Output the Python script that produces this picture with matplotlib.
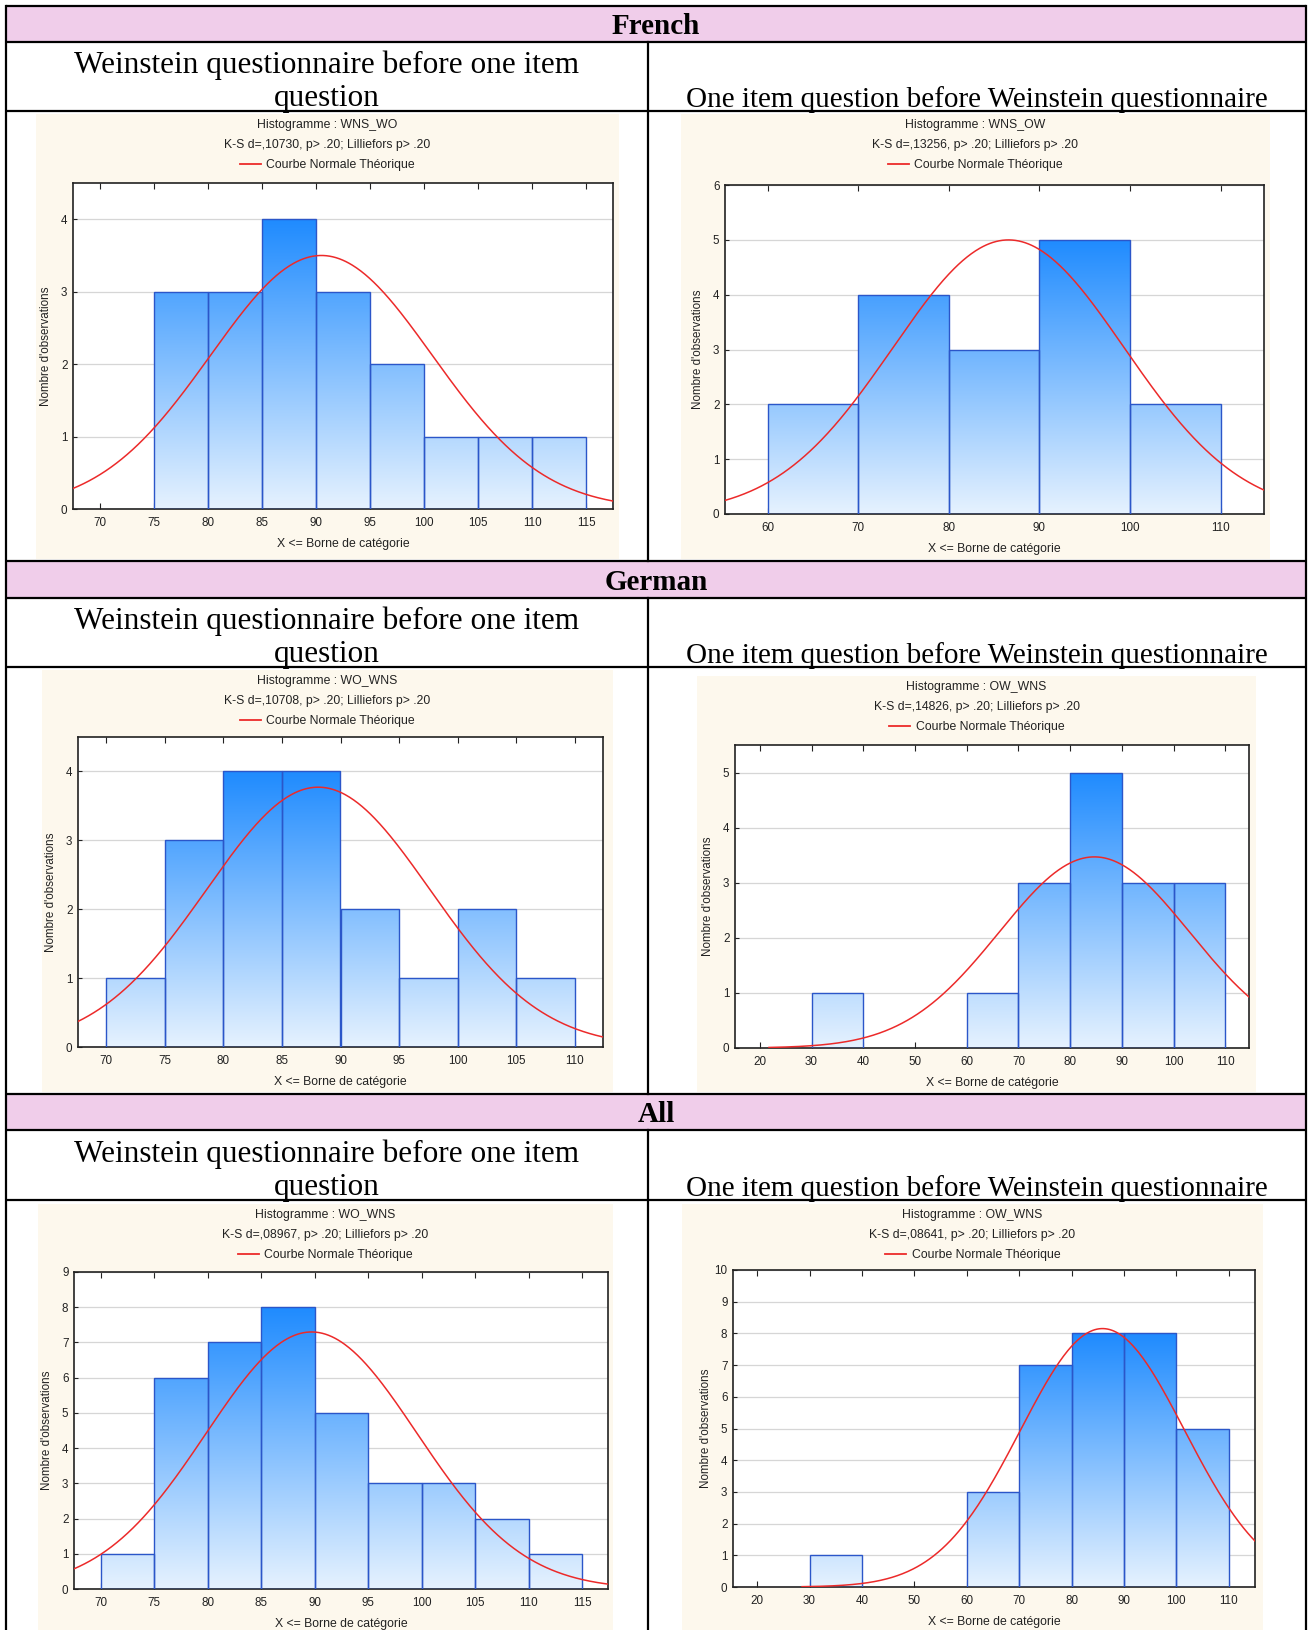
import numpy as np
import matplotlib.pyplot as plt
from matplotlib.colors import LinearSegmentedColormap

W, H = 1312, 1630

# table text
sections = ["French", "German", "All"]
sub_left = "Weinstein questionnaire before one item\nquestion"
sub_right = "One item question before Weinstein questionnaire"

# histogram headers
hist_titles = ["Histogramme : WNS_WO", "Histogramme : WNS_OW",
               "Histogramme : WO_WNS", "Histogramme : OW_WNS",
               "Histogramme : WO_WNS", "Histogramme : OW_WNS"]
ks_lines = ["K-S d=,10730, p> .20; Lilliefors p> .20",
            "K-S d=,13256, p> .20; Lilliefors p> .20",
            "K-S d=,10708, p> .20; Lilliefors p> .20",
            "K-S d=,14826, p> .20; Lilliefors p> .20",
            "K-S d=,08967, p> .20; Lilliefors p> .20",
            "K-S d=,08641, p> .20; Lilliefors p> .20"]
legend_label = "Courbe Normale Théorique"
xlabel = "X <= Borne de catégorie"
ylabel = "Nombre d'observations"

# bin edges and counts
edges_fr_wo = [75, 80, 85, 90, 95, 100, 105, 110, 115]
counts_fr_wo = [3, 3, 4, 3, 2, 1, 1, 1]
edges_fr_ow = [60, 70, 80, 90, 100, 110]
counts_fr_ow = [2, 4, 3, 5, 2]
edges_de_wo = [70, 75, 80, 85, 90, 95, 100, 105, 110]
counts_de_wo = [1, 3, 4, 4, 2, 1, 2, 1]
edges_de_ow = [30, 40, 50, 60, 70, 80, 90, 100, 110]
counts_de_ow = [1, 0, 0, 1, 3, 5, 3, 3]
edges_all_wo = [70, 75, 80, 85, 90, 95, 100, 105, 110, 115]
counts_all_wo = [1, 6, 7, 8, 5, 3, 3, 2, 1]
edges_all_ow = [30, 40, 50, 60, 70, 80, 90, 100, 110]
counts_all_ow = [1, 0, 0, 3, 7, 8, 8, 5]

# normal curve parameters (mean, sd)
norm_fr_wo = (90.5, 10.26)
norm_fr_ow = (86.6, 12.77)
norm_de_wo = (88.1, 9.52)
norm_de_ow = (84.7, 18.4)
norm_all_wo = (89.7, 9.84)
norm_all_ow = (85.9, 15.66)

# axis ticks / limits
xticks_fr_wo = [70, 75, 80, 85, 90, 95, 100, 105, 110, 115]
xticks_fr_ow = [60, 70, 80, 90, 100, 110]
xticks_de_wo = [70, 75, 80, 85, 90, 95, 100, 105, 110]
xticks_de_ow = [20, 30, 40, 50, 60, 70, 80, 90, 100, 110]
xticks_all_wo = [70, 75, 80, 85, 90, 95, 100, 105, 110, 115]
xticks_all_ow = [20, 30, 40, 50, 60, 70, 80, 90, 100, 110]

panels = [
    dict(edges=edges_fr_wo, counts=counts_fr_wo, norm=norm_fr_wo, xticks=xticks_fr_wo,
         xlim=(67.5, 117.5), ymax=4.5, yticks=range(0, 5),
         bg=(36, 114, 619, 559), ax=(73, 183, 613, 509)),
    dict(edges=edges_fr_ow, counts=counts_fr_ow, norm=norm_fr_ow, xticks=xticks_fr_ow,
         xlim=(55.3, 114.8), ymax=6, yticks=range(0, 7),
         bg=(681, 114, 1270, 559), ax=(725, 185, 1264, 514)),
    dict(edges=edges_de_wo, counts=counts_de_wo, norm=norm_de_wo, xticks=xticks_de_wo,
         xlim=(67.6, 112.4), ymax=4.5, yticks=range(0, 5),
         bg=(42, 670, 613, 1092), ax=(78, 737, 603, 1047)),
    dict(edges=edges_de_ow, counts=counts_de_ow, norm=norm_de_ow, xticks=xticks_de_ow,
         xlim=(15.2, 114.6), ymax=5.5, yticks=range(0, 6),
         bg=(697, 676, 1256, 1092), ax=(735, 745, 1249, 1048)),
    dict(edges=edges_all_wo, counts=counts_all_wo, norm=norm_all_wo, xticks=xticks_all_wo,
         xlim=(67.5, 117.4), ymax=9, yticks=range(0, 10),
         bg=(38, 1204, 613, 1630), ax=(74, 1272, 608, 1589)),
    dict(edges=edges_all_ow, counts=counts_all_ow, norm=norm_all_ow, xticks=xticks_all_ow,
         xlim=(15.4, 115.0), ymax=10, yticks=range(0, 11),
         bg=(682, 1204, 1263, 1630), ax=(733, 1270, 1255, 1587)),
]

serif = "Liberation Serif"
sans = "Liberation Sans"
line_col = "black"
head_col = "#f0cdea"
bg_col = "#fdf8ed"
bar_edge = "#2b56c9"
red = "#ec2a2a"
txt_col = "#222222"
cmap = LinearSegmentedColormap.from_list("bl", ["#e6f2fe", "#1f8bff"])
grad = np.linspace(0, 1, 256).reshape(-1, 1)

fig = plt.figure(figsize=(W / 100, H / 100), dpi=100)

# table drawn in pixel coordinates
tab = fig.add_axes([0, 0, 1, 1])
tab.set_xlim(0, W)
tab.set_ylim(H, 0)
tab.axis("off")

left, right, mid = 6, 1306, 648
header_rows = [(6, 42), (561, 598), (1094, 1130)]
sub_rows = [(42, 111), (598, 667), (1130, 1200)]
next_tops = [561, 1094, H]

for name, (h0, h1), (s0, s1), nxt in zip(sections, header_rows, sub_rows, next_tops):
    tab.add_patch(plt.Rectangle((left, h0), right - left, h1 - h0,
                                facecolor=head_col, edgecolor="none"))
    tab.text((left + right) / 2, (h0 + h1) / 2 + 3, name, ha="center", va="center",
             fontsize=21, fontweight="bold", family=serif)
    for y in (h0, h1, s1):
        tab.plot([left, right], [y, y], color=line_col, lw=1.6, solid_capstyle="butt")
    tab.plot([mid, mid], [s0, nxt], color=line_col, lw=1.6)
    tab.text(327, s1 - 5, sub_left, ha="center", va="baseline", fontsize=22.5,
             family=serif, linespacing=1.2)
    tab.text(977, s1 - 4, sub_right, ha="center", va="baseline", fontsize=21,
             family=serif)

tab.plot([left, left], [6, H], color=line_col, lw=1.6)
tab.plot([right, right], [6, H], color=line_col, lw=1.6)

for i, p in enumerate(panels):
    bx0, by0, bx1, by1 = p["bg"]
    tab.add_patch(plt.Rectangle((bx0, by0), bx1 - bx0, by1 - by0,
                                facecolor=bg_col, edgecolor="none", zorder=0.5))
    cx = (bx0 + bx1) / 2
    tab.text(cx, by0 + 11, hist_titles[i], ha="center", va="center",
             fontsize=8.8, family=sans, color=txt_col)
    tab.text(cx, by0 + 31, ks_lines[i], ha="center", va="center",
             fontsize=8.8, family=sans, color=txt_col)
    tab.plot([cx - 88, cx - 67], [by0 + 50, by0 + 50], color=red, lw=1.3)
    tab.text(cx - 61, by0 + 51, legend_label, ha="left", va="center",
             fontsize=8.8, family=sans, color=txt_col)

    x0, y0, x1, y1 = p["ax"]
    ax = fig.add_axes([x0 / W, 1 - y1 / H, (x1 - x0) / W, (y1 - y0) / H])
    ax.set_facecolor("white")

    edges = np.array(p["edges"], dtype=float)
    counts = np.array(p["counts"], dtype=float)
    top = counts.max()
    bars = ax.bar(edges[:-1], counts, width=np.diff(edges), align="edge",
                  facecolor="none", edgecolor=bar_edge, lw=1.0, zorder=3)
    for b, c in zip(bars, counts):
        if c == 0:
            b.set_edgecolor("none")
            continue
        im = ax.imshow(grad, cmap=cmap, aspect="auto", origin="lower",
                       extent=[b.get_x(), b.get_x() + b.get_width(), 0, top],
                       interpolation="bilinear", zorder=2)
        im.set_clip_path(b)

    mu, sd = p["norm"]
    n = counts.sum()
    w = edges[1] - edges[0]
    xs = np.linspace(p["xlim"][0], p["xlim"][1], 500)
    ys = n * w * np.exp(-0.5 * ((xs - mu) / sd) ** 2) / (sd * np.sqrt(2 * np.pi))
    keep = ys > 0.01
    ax.plot(xs[keep], ys[keep], color=red, lw=1.1, zorder=4)

    ax.set_xlim(*p["xlim"])
    ax.set_ylim(0, p["ymax"])
    ax.set_xticks(p["xticks"])
    ax.set_yticks(list(p["yticks"]))
    ax.grid(axis="y", color="#d6d6d6", lw=0.9)
    ax.set_axisbelow(True)
    ax.tick_params(axis="x", direction="in", length=4, top=True, pad=6,
                   labelsize=8.4, colors=txt_col)
    ax.tick_params(axis="y", direction="in", length=3, pad=4,
                   labelsize=8.4, colors=txt_col)
    for s in ax.spines.values():
        s.set_color(txt_col)
        s.set_linewidth(1.2)
    for lab in ax.get_xticklabels() + ax.get_yticklabels():
        lab.set_family(sans)
    ax.set_xlabel(xlabel, fontsize=8.8, family=sans, color=txt_col, labelpad=6)
    ax.set_ylabel(ylabel, fontsize=8.4, family=sans, color=txt_col)
    ax.yaxis.set_label_coords(-21 / (x1 - x0), 0.5)

fig.savefig("out.png", dpi=100)
